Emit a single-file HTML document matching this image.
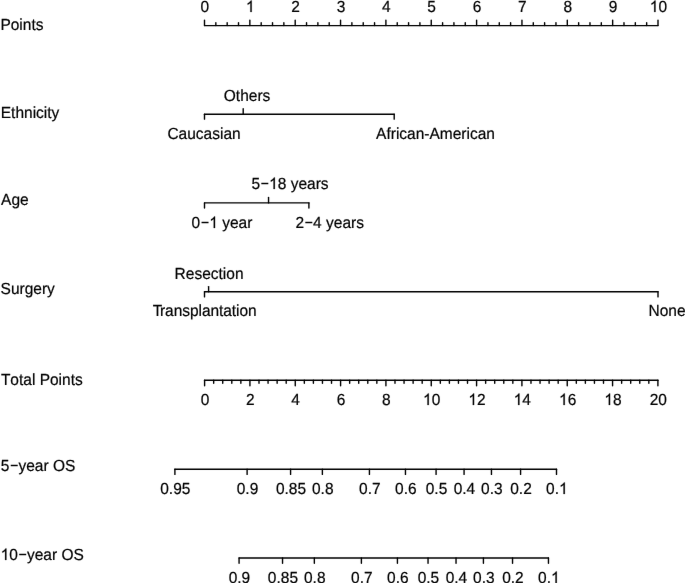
<!DOCTYPE html>
<html><head><meta charset="utf-8"><style>
html,body{margin:0;padding:0;background:#fff;overflow:hidden}
svg{display:block;will-change:transform}
.h{fill-opacity:0;stroke-opacity:0}
</style></head><body>
<svg width="685" height="583" viewBox="0 0 685 583">
<rect width="685" height="583" fill="#fff"/>
<defs><filter id="bl" x="0" y="0" width="685" height="583" filterUnits="userSpaceOnUse"><feConvolveMatrix order="3" kernelMatrix="0.00163 0.03713 0.00163 0.03713 0.84497 0.03713 0.00163 0.03713 0.00163" divisor="1" edgeMode="none"/></filter></defs><g filter="url(#bl)">
<g stroke="#000" stroke-width="1.4" stroke-linecap="round" fill="none">
<line x1="204.50" y1="25.60" x2="658.00" y2="25.60"/>
<line x1="204.50" y1="25.60" x2="204.50" y2="20.10"/>
<line x1="215.84" y1="25.60" x2="215.84" y2="22.80"/>
<line x1="227.18" y1="25.60" x2="227.18" y2="22.80"/>
<line x1="238.51" y1="25.60" x2="238.51" y2="22.80"/>
<line x1="249.85" y1="25.60" x2="249.85" y2="20.10"/>
<line x1="261.19" y1="25.60" x2="261.19" y2="22.80"/>
<line x1="272.52" y1="25.60" x2="272.52" y2="22.80"/>
<line x1="283.86" y1="25.60" x2="283.86" y2="22.80"/>
<line x1="295.20" y1="25.60" x2="295.20" y2="20.10"/>
<line x1="306.54" y1="25.60" x2="306.54" y2="22.80"/>
<line x1="317.88" y1="25.60" x2="317.88" y2="22.80"/>
<line x1="329.21" y1="25.60" x2="329.21" y2="22.80"/>
<line x1="340.55" y1="25.60" x2="340.55" y2="20.10"/>
<line x1="351.89" y1="25.60" x2="351.89" y2="22.80"/>
<line x1="363.23" y1="25.60" x2="363.23" y2="22.80"/>
<line x1="374.56" y1="25.60" x2="374.56" y2="22.80"/>
<line x1="385.90" y1="25.60" x2="385.90" y2="20.10"/>
<line x1="397.24" y1="25.60" x2="397.24" y2="22.80"/>
<line x1="408.58" y1="25.60" x2="408.58" y2="22.80"/>
<line x1="419.91" y1="25.60" x2="419.91" y2="22.80"/>
<line x1="431.25" y1="25.60" x2="431.25" y2="20.10"/>
<line x1="442.59" y1="25.60" x2="442.59" y2="22.80"/>
<line x1="453.93" y1="25.60" x2="453.93" y2="22.80"/>
<line x1="465.26" y1="25.60" x2="465.26" y2="22.80"/>
<line x1="476.60" y1="25.60" x2="476.60" y2="20.10"/>
<line x1="487.94" y1="25.60" x2="487.94" y2="22.80"/>
<line x1="499.28" y1="25.60" x2="499.28" y2="22.80"/>
<line x1="510.61" y1="25.60" x2="510.61" y2="22.80"/>
<line x1="521.95" y1="25.60" x2="521.95" y2="20.10"/>
<line x1="533.29" y1="25.60" x2="533.29" y2="22.80"/>
<line x1="544.62" y1="25.60" x2="544.62" y2="22.80"/>
<line x1="555.96" y1="25.60" x2="555.96" y2="22.80"/>
<line x1="567.30" y1="25.60" x2="567.30" y2="20.10"/>
<line x1="578.64" y1="25.60" x2="578.64" y2="22.80"/>
<line x1="589.98" y1="25.60" x2="589.98" y2="22.80"/>
<line x1="601.31" y1="25.60" x2="601.31" y2="22.80"/>
<line x1="612.65" y1="25.60" x2="612.65" y2="20.10"/>
<line x1="623.99" y1="25.60" x2="623.99" y2="22.80"/>
<line x1="635.33" y1="25.60" x2="635.33" y2="22.80"/>
<line x1="646.66" y1="25.60" x2="646.66" y2="22.80"/>
<line x1="658.00" y1="25.60" x2="658.00" y2="20.10"/>
<line x1="204.50" y1="114.20" x2="394.20" y2="114.20"/>
<line x1="204.50" y1="114.20" x2="204.50" y2="119.15"/>
<line x1="243.20" y1="114.20" x2="243.20" y2="108.80"/>
<line x1="394.20" y1="114.20" x2="394.20" y2="119.15"/>
<line x1="204.50" y1="202.90" x2="309.00" y2="202.90"/>
<line x1="204.50" y1="202.90" x2="204.50" y2="208.10"/>
<line x1="268.55" y1="202.90" x2="268.55" y2="197.55"/>
<line x1="308.90" y1="202.90" x2="308.90" y2="208.10"/>
<line x1="204.50" y1="291.75" x2="658.00" y2="291.75"/>
<line x1="204.50" y1="291.75" x2="204.50" y2="296.90"/>
<line x1="208.60" y1="291.75" x2="208.60" y2="286.60"/>
<line x1="658.00" y1="291.75" x2="658.00" y2="296.90"/>
<line x1="204.60" y1="380.30" x2="657.90" y2="380.30"/>
<line x1="204.60" y1="380.30" x2="204.60" y2="385.70"/>
<line x1="213.67" y1="380.30" x2="213.67" y2="383.20"/>
<line x1="222.73" y1="380.30" x2="222.73" y2="383.20"/>
<line x1="231.80" y1="380.30" x2="231.80" y2="383.20"/>
<line x1="240.86" y1="380.30" x2="240.86" y2="383.20"/>
<line x1="249.93" y1="380.30" x2="249.93" y2="385.70"/>
<line x1="259.00" y1="380.30" x2="259.00" y2="383.20"/>
<line x1="268.06" y1="380.30" x2="268.06" y2="383.20"/>
<line x1="277.13" y1="380.30" x2="277.13" y2="383.20"/>
<line x1="286.19" y1="380.30" x2="286.19" y2="383.20"/>
<line x1="295.26" y1="380.30" x2="295.26" y2="385.70"/>
<line x1="304.33" y1="380.30" x2="304.33" y2="383.20"/>
<line x1="313.39" y1="380.30" x2="313.39" y2="383.20"/>
<line x1="322.46" y1="380.30" x2="322.46" y2="383.20"/>
<line x1="331.52" y1="380.30" x2="331.52" y2="383.20"/>
<line x1="340.59" y1="380.30" x2="340.59" y2="385.70"/>
<line x1="349.66" y1="380.30" x2="349.66" y2="383.20"/>
<line x1="358.72" y1="380.30" x2="358.72" y2="383.20"/>
<line x1="367.79" y1="380.30" x2="367.79" y2="383.20"/>
<line x1="376.85" y1="380.30" x2="376.85" y2="383.20"/>
<line x1="385.92" y1="380.30" x2="385.92" y2="385.70"/>
<line x1="394.99" y1="380.30" x2="394.99" y2="383.20"/>
<line x1="404.05" y1="380.30" x2="404.05" y2="383.20"/>
<line x1="413.12" y1="380.30" x2="413.12" y2="383.20"/>
<line x1="422.18" y1="380.30" x2="422.18" y2="383.20"/>
<line x1="431.25" y1="380.30" x2="431.25" y2="385.70"/>
<line x1="440.32" y1="380.30" x2="440.32" y2="383.20"/>
<line x1="449.38" y1="380.30" x2="449.38" y2="383.20"/>
<line x1="458.45" y1="380.30" x2="458.45" y2="383.20"/>
<line x1="467.51" y1="380.30" x2="467.51" y2="383.20"/>
<line x1="476.58" y1="380.30" x2="476.58" y2="385.70"/>
<line x1="485.65" y1="380.30" x2="485.65" y2="383.20"/>
<line x1="494.71" y1="380.30" x2="494.71" y2="383.20"/>
<line x1="503.78" y1="380.30" x2="503.78" y2="383.20"/>
<line x1="512.84" y1="380.30" x2="512.84" y2="383.20"/>
<line x1="521.91" y1="380.30" x2="521.91" y2="385.70"/>
<line x1="530.98" y1="380.30" x2="530.98" y2="383.20"/>
<line x1="540.04" y1="380.30" x2="540.04" y2="383.20"/>
<line x1="549.11" y1="380.30" x2="549.11" y2="383.20"/>
<line x1="558.17" y1="380.30" x2="558.17" y2="383.20"/>
<line x1="567.24" y1="380.30" x2="567.24" y2="385.70"/>
<line x1="576.31" y1="380.30" x2="576.31" y2="383.20"/>
<line x1="585.37" y1="380.30" x2="585.37" y2="383.20"/>
<line x1="594.44" y1="380.30" x2="594.44" y2="383.20"/>
<line x1="603.50" y1="380.30" x2="603.50" y2="383.20"/>
<line x1="612.57" y1="380.30" x2="612.57" y2="385.70"/>
<line x1="621.64" y1="380.30" x2="621.64" y2="383.20"/>
<line x1="630.70" y1="380.30" x2="630.70" y2="383.20"/>
<line x1="639.77" y1="380.30" x2="639.77" y2="383.20"/>
<line x1="648.83" y1="380.30" x2="648.83" y2="383.20"/>
<line x1="657.90" y1="380.30" x2="657.90" y2="385.70"/>
<line x1="174.90" y1="469.20" x2="556.50" y2="469.20"/>
<line x1="174.90" y1="469.20" x2="174.90" y2="474.40"/>
<line x1="247.11" y1="469.20" x2="247.11" y2="474.40"/>
<line x1="290.58" y1="469.20" x2="290.58" y2="474.40"/>
<line x1="322.38" y1="469.20" x2="322.38" y2="474.40"/>
<line x1="369.43" y1="469.20" x2="369.43" y2="474.40"/>
<line x1="405.46" y1="469.20" x2="405.46" y2="474.40"/>
<line x1="436.08" y1="469.20" x2="436.08" y2="474.40"/>
<line x1="464.07" y1="469.20" x2="464.07" y2="474.40"/>
<line x1="491.46" y1="469.20" x2="491.46" y2="474.40"/>
<line x1="520.58" y1="469.20" x2="520.58" y2="474.40"/>
<line x1="556.50" y1="469.20" x2="556.50" y2="474.40"/>
<line x1="239.07" y1="558.00" x2="548.46" y2="558.00"/>
<line x1="239.07" y1="558.00" x2="239.07" y2="563.30"/>
<line x1="282.54" y1="558.00" x2="282.54" y2="563.30"/>
<line x1="314.34" y1="558.00" x2="314.34" y2="563.30"/>
<line x1="361.39" y1="558.00" x2="361.39" y2="563.30"/>
<line x1="397.42" y1="558.00" x2="397.42" y2="563.30"/>
<line x1="428.04" y1="558.00" x2="428.04" y2="563.30"/>
<line x1="456.03" y1="558.00" x2="456.03" y2="563.30"/>
<line x1="483.42" y1="558.00" x2="483.42" y2="563.30"/>
<line x1="512.54" y1="558.00" x2="512.54" y2="563.30"/>
<line x1="548.46" y1="558.00" x2="548.46" y2="563.30"/>
</g>
<g font-family="Liberation Sans, sans-serif" font-size="15.5" fill="#000" stroke="#000" stroke-width="0.2" style="text-rendering:geometricPrecision;font-kerning:none">
<text id="t0" transform="translate(204.90 12.00) scale(1 1.04)" text-anchor="middle">0</text>
<text id="t1" transform="translate(250.25 12.00) scale(1 1.04)" text-anchor="middle"><tspan class="h">1</tspan></text>
<text id="t2" transform="translate(295.60 12.00) scale(1 1.04)" text-anchor="middle">2</text>
<text id="t3" transform="translate(340.95 12.00) scale(1 1.04)" text-anchor="middle">3</text>
<text id="t4" transform="translate(386.30 12.00) scale(1 1.04)" text-anchor="middle">4</text>
<text id="t5" transform="translate(431.65 12.00) scale(1 1.04)" text-anchor="middle">5</text>
<text id="t6" transform="translate(477.00 12.00) scale(1 1.04)" text-anchor="middle">6</text>
<text id="t7" transform="translate(522.35 12.00) scale(1 1.04)" text-anchor="middle">7</text>
<text id="t8" transform="translate(567.70 12.00) scale(1 1.04)" text-anchor="middle">8</text>
<text id="t9" transform="translate(613.05 12.00) scale(1 1.04)" text-anchor="middle">9</text>
<text id="t10" transform="translate(658.40 12.00) scale(1 1.04)" text-anchor="middle"><tspan class="h">1</tspan>0</text>
<text id="t11" transform="translate(0.40 30.00) scale(1 1.04)">Points</text>
<text id="t12" transform="translate(167.40 139.00) scale(1 1.04)">Caucasian</text>
<text id="t13" transform="translate(223.80 101.00) scale(1 1.04)">Others</text>
<text id="t14" transform="translate(376.10 139.00) scale(1 1.04)">African-American</text>
<text id="t15" transform="translate(0.75 118.00) scale(1 1.04)">Ethnicity</text>
<text id="t16" transform="translate(191.60 228.00) scale(1 1.04)">0<tspan class="h">−</tspan><tspan class="h">1</tspan> year</text>
<text id="t17" transform="translate(251.40 189.00) scale(1 1.04)">5<tspan class="h">−</tspan><tspan class="h">1</tspan>8 years</text>
<text id="t18" transform="translate(295.40 228.00) scale(1 1.04)">2<tspan class="h">−</tspan>4 years</text>
<text id="t19" transform="translate(1.10 205.00) scale(1 1.04)">Age</text>
<text id="t20" transform="translate(174.60 279.00) scale(1 1.04)">Resection</text>
<text id="t21" transform="translate(152.65 316.00) scale(1 1.04)" letter-spacing="-0.05">T<tspan dx="-2.1">ransplantation</tspan></text>
<text id="t22" transform="translate(648.50 316.00) scale(1 1.04)">None</text>
<text id="t23" transform="translate(0.60 294.00) scale(1 1.04)">Surgery</text>
<text id="t24" transform="translate(205.00 405.00) scale(1 1.04)" text-anchor="middle">0</text>
<text id="t25" transform="translate(250.33 405.00) scale(1 1.04)" text-anchor="middle">2</text>
<text id="t26" transform="translate(295.66 405.00) scale(1 1.04)" text-anchor="middle">4</text>
<text id="t27" transform="translate(340.99 405.00) scale(1 1.04)" text-anchor="middle">6</text>
<text id="t28" transform="translate(386.32 405.00) scale(1 1.04)" text-anchor="middle">8</text>
<text id="t29" transform="translate(431.65 405.00) scale(1 1.04)" text-anchor="middle"><tspan class="h">1</tspan>0</text>
<text id="t30" transform="translate(476.98 405.00) scale(1 1.04)" text-anchor="middle"><tspan class="h">1</tspan>2</text>
<text id="t31" transform="translate(522.31 405.00) scale(1 1.04)" text-anchor="middle"><tspan class="h">1</tspan>4</text>
<text id="t32" transform="translate(567.64 405.00) scale(1 1.04)" text-anchor="middle"><tspan class="h">1</tspan>6</text>
<text id="t33" transform="translate(612.97 405.00) scale(1 1.04)" text-anchor="middle"><tspan class="h">1</tspan>8</text>
<text id="t34" transform="translate(658.30 405.00) scale(1 1.04)" text-anchor="middle">20</text>
<text id="t35" transform="translate(0.90 385.00) scale(1 1.04)">Total Points</text>
<text id="t36" transform="translate(175.30 494.00) scale(1 1.04)" text-anchor="middle">0.95</text>
<text id="t37" transform="translate(247.51 494.00) scale(1 1.04)" text-anchor="middle">0.9</text>
<text id="t38" transform="translate(290.98 494.00) scale(1 1.04)" text-anchor="middle">0.85</text>
<text id="t39" transform="translate(322.78 494.00) scale(1 1.04)" text-anchor="middle">0.8</text>
<text id="t40" transform="translate(369.83 494.00) scale(1 1.04)" text-anchor="middle">0.7</text>
<text id="t41" transform="translate(405.86 494.00) scale(1 1.04)" text-anchor="middle">0.6</text>
<text id="t42" transform="translate(436.48 494.00) scale(1 1.04)" text-anchor="middle">0.5</text>
<text id="t43" transform="translate(464.47 494.00) scale(1 1.04)" text-anchor="middle">0.4</text>
<text id="t44" transform="translate(491.86 494.00) scale(1 1.04)" text-anchor="middle">0.3</text>
<text id="t45" transform="translate(520.98 494.00) scale(1 1.04)" text-anchor="middle">0.2</text>
<text id="t46" transform="translate(556.90 494.00) scale(1 1.04)" text-anchor="middle">0.<tspan class="h">1</tspan></text>
<text id="t47" transform="translate(0.80 471.00) scale(1 1.04)">5<tspan class="h">−</tspan>year OS</text>
<text id="t48" transform="translate(239.47 583.00) scale(1 1.04)" text-anchor="middle">0.9</text>
<text id="t49" transform="translate(282.94 583.00) scale(1 1.04)" text-anchor="middle">0.85</text>
<text id="t50" transform="translate(314.74 583.00) scale(1 1.04)" text-anchor="middle">0.8</text>
<text id="t51" transform="translate(361.79 583.00) scale(1 1.04)" text-anchor="middle">0.7</text>
<text id="t52" transform="translate(397.82 583.00) scale(1 1.04)" text-anchor="middle">0.6</text>
<text id="t53" transform="translate(428.44 583.00) scale(1 1.04)" text-anchor="middle">0.5</text>
<text id="t54" transform="translate(456.43 583.00) scale(1 1.04)" text-anchor="middle">0.4</text>
<text id="t55" transform="translate(483.82 583.00) scale(1 1.04)" text-anchor="middle">0.3</text>
<text id="t56" transform="translate(512.94 583.00) scale(1 1.04)" text-anchor="middle">0.2</text>
<text id="t57" transform="translate(548.86 583.00) scale(1 1.04)" text-anchor="middle">0.<tspan class="h">1</tspan></text>
<text id="t58" transform="translate(0.65 560.00) scale(1 1.04)"><tspan class="h">1</tspan>0<tspan class="h">−</tspan>year OS</text>
</g>
<g fill="#000" stroke="#000" stroke-width="26.4" stroke-linejoin="round">
<path transform="matrix(0.007568 0 0 -0.007871 245.94 12.00)" d="M763,0L583,0L583,1147Q518,1085 412,1023Q306,961 223,930L223,1104Q374,1175 487,1276Q600,1377 647,1472L763,1472Z"/>
<path transform="matrix(0.007568 0 0 -0.007871 649.77 12.00)" d="M763,0L583,0L583,1147Q518,1085 412,1023Q306,961 223,930L223,1104Q374,1175 487,1276Q600,1377 647,1472L763,1472Z"/>
<path transform="matrix(0.007568 0 0 -0.007871 209.29 228.00)" d="M763,0L583,0L583,1147Q518,1085 412,1023Q306,961 223,930L223,1104Q374,1175 487,1276Q600,1377 647,1472L763,1472Z"/>
<path transform="matrix(0.007568 0 0 -0.007871 269.09 189.00)" d="M763,0L583,0L583,1147Q518,1085 412,1023Q306,961 223,930L223,1104Q374,1175 487,1276Q600,1377 647,1472L763,1472Z"/>
<path transform="matrix(0.007568 0 0 -0.007871 423.02 405.00)" d="M763,0L583,0L583,1147Q518,1085 412,1023Q306,961 223,930L223,1104Q374,1175 487,1276Q600,1377 647,1472L763,1472Z"/>
<path transform="matrix(0.007568 0 0 -0.007871 468.35 405.00)" d="M763,0L583,0L583,1147Q518,1085 412,1023Q306,961 223,930L223,1104Q374,1175 487,1276Q600,1377 647,1472L763,1472Z"/>
<path transform="matrix(0.007568 0 0 -0.007871 513.68 405.00)" d="M763,0L583,0L583,1147Q518,1085 412,1023Q306,961 223,930L223,1104Q374,1175 487,1276Q600,1377 647,1472L763,1472Z"/>
<path transform="matrix(0.007568 0 0 -0.007871 559.01 405.00)" d="M763,0L583,0L583,1147Q518,1085 412,1023Q306,961 223,930L223,1104Q374,1175 487,1276Q600,1377 647,1472L763,1472Z"/>
<path transform="matrix(0.007568 0 0 -0.007871 604.34 405.00)" d="M763,0L583,0L583,1147Q518,1085 412,1023Q306,961 223,930L223,1104Q374,1175 487,1276Q600,1377 647,1472L763,1472Z"/>
<path transform="matrix(0.007568 0 0 -0.007871 559.06 494.00)" d="M763,0L583,0L583,1147Q518,1085 412,1023Q306,961 223,930L223,1104Q374,1175 487,1276Q600,1377 647,1472L763,1472Z"/>
<path transform="matrix(0.007568 0 0 -0.007871 551.02 583.00)" d="M763,0L583,0L583,1147Q518,1085 412,1023Q306,961 223,930L223,1104Q374,1175 487,1276Q600,1377 647,1472L763,1472Z"/>
<path transform="matrix(0.007568 0 0 -0.007871 0.65 560.00)" d="M763,0L583,0L583,1147Q518,1085 412,1023Q306,961 223,930L223,1104Q374,1175 487,1276Q600,1377 647,1472L763,1472Z"/></g>
<g fill="#000">
<rect x="201.53" y="221.78" width="7.00" height="1.45"/>
<rect x="261.32" y="182.78" width="7.00" height="1.45"/>
<rect x="305.32" y="221.78" width="7.00" height="1.45"/>
<rect x="10.73" y="464.77" width="7.00" height="1.45"/>
<rect x="19.20" y="553.77" width="7.00" height="1.45"/>
</g>
</g>
</svg>
</body></html>
